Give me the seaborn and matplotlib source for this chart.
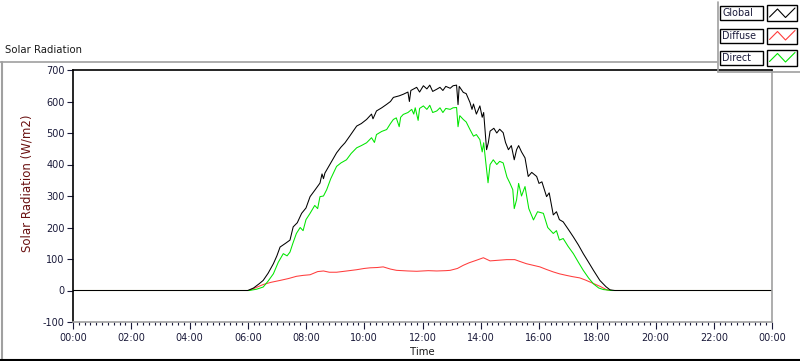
import numpy as np
import pandas as pd
import matplotlib
matplotlib.use("Agg")
import matplotlib.pyplot as plt
import seaborn as sns
from matplotlib.lines import Line2D
from matplotlib.patches import Rectangle
from matplotlib.ticker import MultipleLocator, FuncFormatter

# Global radiation (hours, W/m2)
global_t = [0.0, 6.0, 6.2, 6.4, 6.53, 6.7, 6.88, 7.0, 7.11, 7.3, 7.45, 7.56, 7.7, 7.85, 8.0, 8.14, 8.3,
            8.48, 8.55, 8.6, 8.65, 8.85, 9.05, 9.2, 9.34, 9.5, 9.74, 9.9, 10.08, 10.25, 10.3, 10.42, 10.6,
            10.77, 10.9, 11.0, 11.2, 11.34, 11.5, 11.55, 11.6, 11.68, 11.8, 11.9, 12.03, 12.15, 12.25,
            12.35, 12.49, 12.6, 12.7, 12.8, 12.95, 13.05, 13.17, 13.22, 13.26, 13.4, 13.5, 13.63, 13.7,
            13.75, 13.85, 13.97, 14.05, 14.1, 14.2, 14.26, 14.32, 14.45, 14.55, 14.65, 14.77, 14.85,
            14.95, 15.05, 15.15, 15.23, 15.3, 15.4, 15.52, 15.63, 15.75, 15.92, 16.0, 16.1, 16.26, 16.35,
            16.49, 16.6, 16.7, 16.83, 17.0, 17.18, 17.35, 17.52, 17.7, 17.87, 18.09, 18.3, 18.44, 18.6, 24.0]
global_v = [0, 0, 8, 22, 32, 55, 85, 110, 138, 150, 160, 202, 215, 245, 262, 298, 318,
            341, 370, 355, 373, 405, 437, 455, 469, 490, 522, 530, 543, 560, 545, 570, 580,
            591, 600, 613, 618, 623, 630, 600, 635, 639, 645, 630, 650, 640, 652,
            632, 639, 645, 635, 648, 642, 650, 652, 590, 648, 629, 625, 597, 575,
            592, 560, 586, 550, 565, 447, 469, 506, 515, 500, 512, 501, 470,
            447, 460, 415, 447, 460, 440, 421, 362, 375, 362, 340, 345, 298, 310,
            240, 250, 225, 218, 195, 170, 145, 117, 90, 64, 32, 12, 2, 0, 0]

# Diffuse radiation
diffuse_t = [0.0, 6.05, 6.3, 6.53, 6.8, 7.11, 7.4, 7.67, 7.9, 8.14, 8.4, 8.6, 8.8, 9.05, 9.4, 9.74,
             10.0, 10.2, 10.45, 10.65, 10.9, 11.11, 11.5, 11.8, 12.2, 12.49, 12.8, 12.95, 13.2, 13.4,
             13.6, 13.85, 14.09, 14.32, 14.6, 14.89, 15.17, 15.35, 15.57, 15.8, 16.03, 16.25, 16.49,
             16.7, 16.94, 17.15, 17.4, 17.6, 17.75, 17.95, 18.1, 18.33, 18.5, 24.0]
diffuse_v = [0, 0, 10, 19, 26, 32, 38, 45, 48, 50, 60, 62, 58, 58, 62, 66,
             70, 72, 73, 75, 68, 64, 62, 61, 63, 62, 63, 64, 70, 80,
             88, 96, 104, 94, 96, 98, 98, 92, 85, 80, 75, 67, 59,
             53, 48, 44, 40, 33, 27, 19, 13, 2, 0, 0]

# Direct radiation
direct_t = [0.0, 6.05, 6.3, 6.53, 6.7, 6.88, 7.05, 7.22, 7.35, 7.45, 7.55, 7.67, 7.8, 7.9, 8.0, 8.14,
            8.3, 8.4, 8.48, 8.6, 8.71, 8.85, 9.05, 9.2, 9.39, 9.55, 9.74, 9.9, 10.08, 10.25, 10.35,
            10.42, 10.6, 10.77, 10.9, 11.0, 11.1, 11.2, 11.25, 11.34, 11.5, 11.63, 11.7, 11.75, 11.85,
            11.9, 12.03, 12.15, 12.25, 12.35, 12.49, 12.6, 12.7, 12.8, 12.95, 13.05, 13.17, 13.22,
            13.28, 13.4, 13.5, 13.63, 13.75, 13.85, 13.97, 14.05, 14.1, 14.2, 14.25, 14.32, 14.43,
            14.55, 14.65, 14.77, 14.9, 15.0, 15.1, 15.15, 15.23, 15.3, 15.4, 15.52, 15.65, 15.81,
            15.95, 16.15, 16.3, 16.49, 16.6, 16.7, 16.83, 17.0, 17.18, 17.35, 17.52, 17.7, 17.87,
            18.05, 18.21, 18.5, 24.0]
direct_v = [0, 0, 4, 11, 30, 53, 90, 117, 110, 122, 150, 181, 200, 190, 225, 245,
            270, 260, 298, 300, 320, 355, 394, 405, 415, 435, 453, 460, 469, 485, 470,
            495, 505, 511, 530, 543, 548, 520, 550, 559, 565, 575, 560, 580, 540,
            578, 586, 575, 588, 565, 570, 580, 565, 578, 575, 580, 581, 520,
            555, 543, 535, 511, 490, 495, 479, 440, 469, 384, 342, 400, 415,
            400, 410, 405, 360, 341, 320, 260, 288, 340, 300, 330, 260, 224,
            250, 245, 200, 181, 190, 160, 165, 140, 117, 90, 64, 40, 21,
            8, 3, 0, 0]

series_names = ["Global", "Diffuse", "Direct"]
series_colors = ["#000000", "#ff3c3c", "#00e600"]

sns.set_style("white")
plt.rcParams["font.family"] = ["DejaVu Sans"]
plt.rcParams["axes.unicode_minus"] = False

W, H = 800, 361
fig = plt.figure(figsize=(W / 100, H / 100), dpi=100)
ax = fig.add_axes([73 / W, 1 - 322 / H, 699 / W, 252 / H])

sns.lineplot(x=diffuse_t, y=diffuse_v, ax=ax, color=series_colors[1], lw=0.75)
sns.lineplot(x=direct_t, y=direct_v, ax=ax, color=series_colors[2], lw=0.75)
sns.lineplot(x=global_t, y=global_v, ax=ax, color=series_colors[0], lw=0.75)

ax.set_xlim(0, 24)
ax.set_ylim(-100, 700)
ax.xaxis.set_major_locator(MultipleLocator(2))
ax.xaxis.set_minor_locator(MultipleLocator(0.2))
ax.xaxis.set_major_formatter(FuncFormatter(lambda v, p: "%02d:00" % (int(round(v)) % 24)))
ax.yaxis.set_major_locator(MultipleLocator(100))
tick_col = "#1a1a3a"
ax.tick_params(axis="both", which="major", direction="out", length=4, width=0.8,
               labelsize=7, colors=tick_col, pad=2, bottom=True, left=True)
ax.tick_params(axis="x", which="minor", direction="out", length=2.5, width=0.8,
               colors=tick_col, bottom=True)
ax.tick_params(axis="x", which="major", length=5, pad=3)

for s in ["top", "left"]:
    ax.spines[s].set_color("black")
    ax.spines[s].set_linewidth(1.2)
for s in ["right", "bottom"]:
    ax.spines[s].set_color("#a0a0a0")
    ax.spines[s].set_linewidth(1.2)

ax.set_xlabel("Time", fontsize=7.3, color="#1a1a1a", labelpad=3)
ax.set_ylabel("Solar Radiation (W/m2)", fontsize=8.5, color="#6a1010")
ax.yaxis.set_label_coords(-0.057, 0.55)

fig.text(5 / W, 1 - 50 / H, "Solar Radiation", fontsize=7.3, color="#1a1a1a", va="center", ha="left")

# frame lines
gray = "#a0a0a0"
fig.add_artist(Line2D([0, 717 / W], [1 - 62 / H, 1 - 62 / H], color=gray, lw=1.2))
fig.add_artist(Line2D([1.5 / W, 1.5 / W], [1 - 62 / H, 0], color=gray, lw=1.5))
fig.add_artist(Line2D([0, 1], [0.8 / H, 0.8 / H], color="black", lw=1.5))

# legend panel
lax = fig.add_axes([717 / W, 1 - 73 / H, 83 / W, 73 / H])
lax.set_xlim(717, 800)
lax.set_ylim(73, 0)
lax.axis("off")
lax.add_line(Line2D([718, 718], [2, 72], color=gray, lw=1.2))
lax.add_line(Line2D([718, 800], [72, 72], color=gray, lw=1.2))
rows = [13, 35.5, 57.5]
for name, col, yc in zip(series_names, series_colors, rows):
    lax.add_patch(Rectangle((720.5, yc - 7), 42.5, 14, fill=False, ec="black", lw=1.0))
    lax.text(722.5, yc + 0.5, name, fontsize=6.9, color="#1a1a3a", va="center", ha="left")
    lax.add_patch(Rectangle((767, yc - 8), 30, 16, fill=False, ec="black", lw=1.0))
    lax.add_line(Line2D([769.5, 777.5, 785.5, 795], [yc + 4, yc - 4, yc + 4.5, yc - 5],
                        color=col, lw=0.8))

fig.savefig("out.png", dpi=100, facecolor="white")
